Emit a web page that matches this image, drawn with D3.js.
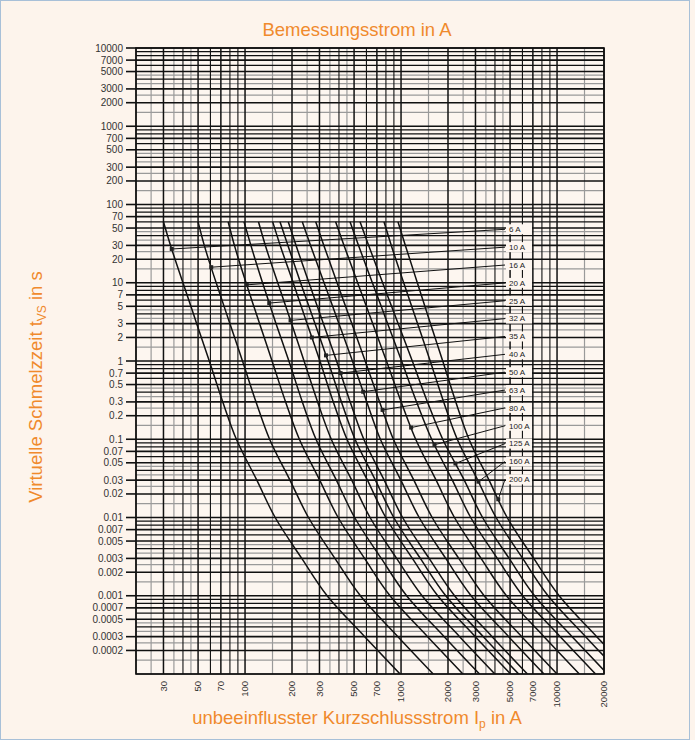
<!DOCTYPE html>
<html>
<head>
<meta charset="utf-8">
<script src="https://cdn.jsdelivr.net/npm/d3@7"></script>
<style>
  html, body { margin: 0; padding: 0; background: #fdf4ec; }
  svg { display: block; }
  text { font-family: "Liberation Sans", Arial, Helvetica, sans-serif; }
</style>
</head>
<body>
<svg id="chart" width="695" height="740"></svg>
<script>
// Fuse ratings (one curve each)
const ratings = ["6 A", "10 A", "16 A", "20 A", "25 A", "32 A", "35 A", "40 A",
                 "50 A", "63 A", "80 A", "100 A", "125 A", "160 A", "200 A"];

// Pre-arcing times (s) at which the currents below are given
const times = [60, 30, 10, 3, 1, 0.3, 0.1, 0.03, 0.01, 0.003, 0.001, 0.0003, 0.0001];

// Prospective current (A) of each curve at the times above
const curve6A   = [30, 33.3, 40, 49, 59, 72, 88, 119, 156, 231, 336, 585, 985];
const curve10A  = [50, 54.8, 65.3, 80, 96.3, 117.6, 143.7, 194, 255, 377, 549, 955, 1608];
const curve16A  = [78, 85.5, 101.5, 124, 149, 182, 223, 301, 395, 584, 850, 1480, 2492];
const curve20A  = [98.5, 109, 129.5, 158, 191, 233, 285, 385, 504, 747, 1086, 1891, 3185];
const curve25A  = [122, 135, 162, 199, 239, 292, 357, 483, 633, 937, 1364, 2374, 3997];
const curve32A  = [150.4, 168, 203.5, 250, 302, 368, 450, 609, 798, 1182, 1719, 2993, 5040];
const curve35A  = [167.5, 188.3, 227, 281, 340, 415, 507, 685, 898, 1330, 1935, 3368, 5672];
const curve40A  = [189.3, 212.3, 257, 318, 386, 472, 577, 780, 1023, 1514, 2203, 3835, 6458];
const curve50A  = [233, 263, 321, 400, 488, 603, 737, 997, 1307, 1935, 2814, 4899, 8249];
const curve63A  = [284, 320, 389, 484, 589, 729, 893, 1208, 1583, 2345, 3410, 5938, 9998];
const curve80A  = [381, 431, 527, 659, 806, 1002, 1241, 1678, 2200, 3257, 4738, 8249, 13889];
const curve100A = [471, 534, 655, 821, 1008, 1258, 1572, 2132, 2796, 4140, 6021, 10483, 17651];
const curve125A = [546, 620, 762, 959, 1181, 1477, 1850, 2541, 3331, 4932, 7174, 12490, 21030];
const curve160A = [778, 866, 1040, 1277, 1538, 1876, 2293, 3101, 4065, 6020, 8756, 15245, 25670];
const curve200A = [956, 1066, 1272, 1545, 1850, 2244, 2727, 3664, 4789, 7092, 10315, 17960, 30240];

const curves = [curve6A, curve10A, curve16A, curve20A, curve25A, curve32A, curve35A, curve40A,
                curve50A, curve63A, curve80A, curve100A, curve125A, curve160A, curve200A];

// Time (s) on each curve where its rating label is attached
const markerTimes = [27, 15.8, 9.4, 5.5, 3.3, 2.0, 1.18, 0.7, 0.405, 0.237, 0.141, 0.085, 0.049, 0.0287, 0.0171];

// Axis tick labels
const xTickValues = [30, 50, 70, 100, 200, 300, 500, 700, 1000, 2000, 3000, 5000, 7000, 10000, 20000];
const xTickLabels = ["30", "50", "70", "100", "200", "300", "500", "700", "1000", "2000", "3000", "5000", "7000", "10000", "20000"];
const yTickValues = [10000, 7000, 5000, 3000, 2000, 1000, 700, 500, 300, 200, 100, 70, 50, 30, 20, 10, 7, 5, 3, 2,
                     1, 0.7, 0.5, 0.3, 0.2, 0.1, 0.07, 0.05, 0.03, 0.02, 0.01, 0.007, 0.005, 0.003, 0.002,
                     0.001, 0.0007, 0.0005, 0.0003, 0.0002];
const yTickLabels = ["10000", "7000", "5000", "3000", "2000", "1000", "700", "500", "300", "200", "100", "70", "50", "30", "20",
                     "10", "7", "5", "3", "2", "1", "0.7", "0.5", "0.3", "0.2", "0.1", "0.07", "0.05", "0.03", "0.02",
                     "0.01", "0.007", "0.005", "0.003", "0.002", "0.001", "0.0007", "0.0005", "0.0003", "0.0002"];

// ---- layout ----
const W = 695, H = 740;
const plot = { left: 136, right: 604, top: 48, bottom: 674 };
const orange = "#f08a2c";

const svg = d3.select("#chart");

// outer frame
svg.append("rect").attr("x", 0.5).attr("y", 0.5).attr("width", W - 6).attr("height", H - 1)
  .attr("fill", "#fdf4ec").attr("stroke", "#a8c0d8").attr("stroke-width", 1);

const x = d3.scaleLog().domain([20, 20000]).range([plot.left, plot.right]);
const y = d3.scaleLog().domain([0.0001, 10000]).range([plot.bottom, plot.top]);

// plot background
svg.append("rect").attr("x", plot.left).attr("y", plot.top)
  .attr("width", plot.right - plot.left).attr("height", plot.bottom - plot.top)
  .attr("fill", "#fdf6f0");

// ---- grid ----
function gridValues(lo, hi) {
  const major = [], minor = [];
  for (let e = Math.floor(Math.log10(lo)); e <= Math.ceil(Math.log10(hi)); e++) {
    const d = Math.pow(10, e);
    for (let m = 1; m <= 9; m++) {
      const v = +(m * d).toPrecision(6);
      if (v >= lo * 0.999 && v <= hi * 1.001) major.push(v);
    }
    for (const m of [1.5, 2.5, 3.5, 4.5]) {
      const v = +(m * d).toPrecision(6);
      if (v > lo && v < hi) minor.push(v);
    }
  }
  return { major, minor };
}
const gx = gridValues(20, 20000);
const gy = gridValues(0.0001, 10000);
const near = (arr, v) => arr.some(a => Math.abs(Math.log10(a) - Math.log10(v)) < 1e-6);

const grid = svg.append("g");
grid.selectAll(".vminor").data(gx.minor).join("line")
  .attr("x1", d => x(d)).attr("x2", d => x(d)).attr("y1", plot.top).attr("y2", plot.bottom)
  .attr("stroke", "#9a9a9a").attr("stroke-width", 1.2);
grid.selectAll(".hminor").data(gy.minor).join("line")
  .attr("y1", d => y(d)).attr("y2", d => y(d)).attr("x1", plot.left).attr("x2", plot.right)
  .attr("stroke", "#9a9a9a").attr("stroke-width", 1.2);
grid.selectAll(".vmajor").data(gx.major).join("line")
  .attr("x1", d => x(d)).attr("x2", d => x(d)).attr("y1", plot.top).attr("y2", plot.bottom)
  .attr("stroke", "#111").attr("stroke-width", d => near(xTickValues, d) ? 1.5 : 1.1);
grid.selectAll(".hmajor").data(gy.major).join("line")
  .attr("y1", d => y(d)).attr("y2", d => y(d)).attr("x1", plot.left).attr("x2", plot.right)
  .attr("stroke", "#111").attr("stroke-width", d => near(yTickValues, d) ? 1.6 : 1.1);

// frame of the plot
svg.append("rect").attr("x", plot.left).attr("y", plot.top)
  .attr("width", plot.right - plot.left).attr("height", plot.bottom - plot.top)
  .attr("fill", "none").attr("stroke", "#111").attr("stroke-width", 1.6);

// ---- axes ----
const yAxis = svg.append("g");
yAxis.selectAll("line").data(yTickValues).join("line")
  .attr("x1", plot.left - 10).attr("x2", plot.left).attr("y1", d => y(d)).attr("y2", d => y(d))
  .attr("stroke", "#111").attr("stroke-width", 1.6);
yAxis.selectAll("text").data(yTickValues).join("text")
  .attr("x", plot.left - 13).attr("y", d => y(d)).attr("dy", "0.35em")
  .attr("text-anchor", "end").attr("font-size", 10).attr("fill", "#333")
  .text((d, i) => yTickLabels[i]);

const xAxis = svg.append("g");
xAxis.selectAll("text").data(xTickValues).join("text")
  .attr("transform", d => `translate(${x(d)},${plot.bottom + 7}) rotate(-90)`)
  .attr("dy", "0.35em").attr("text-anchor", "end").attr("font-size", 9.5).attr("fill", "#333")
  .text((d, i) => xTickLabels[i]);

// ---- curves ----
svg.append("clipPath").attr("id", "plotclip").append("rect")
  .attr("x", plot.left).attr("y", plot.top)
  .attr("width", plot.right - plot.left).attr("height", plot.bottom - plot.top);

const line = d3.line().x(d => x(d[0])).y(d => y(d[1])).curve(d3.curveMonotoneY);
const curveG = svg.append("g").attr("clip-path", "url(#plotclip)");
curveG.selectAll("path").data(curves).join("path")
  .attr("d", c => line(c.map((I, i) => [I, times[i]])))
  .attr("fill", "none").attr("stroke", "#111").attr("stroke-width", 1.5);

// current of a curve at a given time (log-log interpolation)
function currentAt(c, t) {
  for (let i = 0; i < times.length - 1; i++) {
    if (t <= times[i] && t >= times[i + 1]) {
      const f = (Math.log(t) - Math.log(times[i])) / (Math.log(times[i + 1]) - Math.log(times[i]));
      return Math.exp(Math.log(c[i]) + f * (Math.log(c[i + 1]) - Math.log(c[i])));
    }
  }
  return c[0];
}

// ---- rating labels with leader lines ----
const labelX = 505, labelY0 = 229.3, labelStep = 17.86;
const labels = svg.append("g");
ratings.forEach((r, i) => {
  const mx = x(currentAt(curves[i], markerTimes[i]));
  const my = y(markerTimes[i]);
  const ly = labelY0 + i * labelStep;
  labels.append("line").attr("x1", mx).attr("y1", my).attr("x2", labelX).attr("y2", ly)
    .attr("stroke", "#111").attr("stroke-width", 1);
  labels.append("rect").attr("x", mx - 2).attr("y", my - 2).attr("width", 4).attr("height", 4)
    .attr("fill", "#222");
  labels.append("rect").attr("x", labelX + 1).attr("y", ly - 5).attr("width", 26).attr("height", 10)
    .attr("fill", "#fdf6f0");
  labels.append("text").attr("x", labelX + 4).attr("y", ly).attr("dy", "0.35em")
    .attr("font-size", 8).attr("fill", "#222").text(r);
});

// ---- titles ----
svg.append("text").attr("x", 357).attr("y", 35.5).attr("text-anchor", "middle")
  .attr("font-size", 18.5).attr("fill", orange).text("Bemessungsstrom in A");

const yt = svg.append("text").attr("transform", "translate(41.5,387) rotate(-90)")
  .attr("text-anchor", "middle").attr("font-size", 18.5).attr("fill", orange);
yt.append("tspan").text("Virtuelle Schmelzzeit t");
yt.append("tspan").attr("font-size", 12).attr("dy", 4).text("VS");
yt.append("tspan").attr("dy", -4).text(" in s");

const xt = svg.append("text").attr("x", 357).attr("y", 724).attr("text-anchor", "middle")
  .attr("font-size", 18.5).attr("fill", orange);
xt.append("tspan").text("unbeeinflusster Kurzschlussstrom I");
xt.append("tspan").attr("font-size", 12).attr("dy", 4).text("p");
xt.append("tspan").attr("dy", -4).text(" in A");
</script>
</body>
</html>
